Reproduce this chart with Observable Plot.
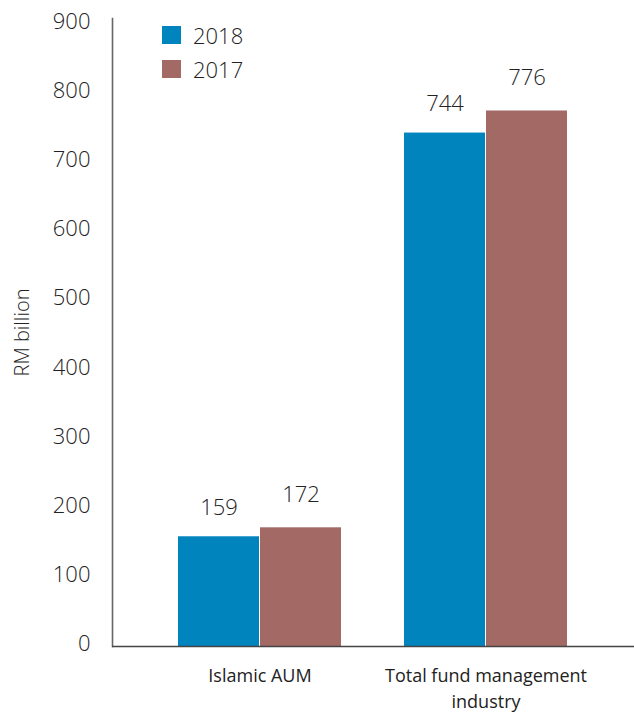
<!DOCTYPE html>
<html><head><meta charset="utf-8">
<script src="https://cdn.jsdelivr.net/npm/d3@7"></script>
<script src="https://cdn.jsdelivr.net/npm/@observablehq/plot@0.6"></script>
<style>
body{margin:0;background:#fff;font-family:"Open Sans",sans-serif;}
#wrap{position:relative;width:634px;height:713px;}
#wrap svg text{font-weight:300;}
#wrap svg g[aria-label="x-axis tick label"] text{font-weight:400;}
.legend{position:absolute;left:162px;top:18px;font-size:22px;font-weight:300;color:#222;}
.item{display:flex;align-items:center;height:34px;}
.sw{width:19px;height:18px;margin-right:12px;}
</style></head><body><div id="wrap"></div>
<script>
const categories = ["Islamic AUM", "Total fund management industry"];
const xTickLabels = ["Islamic AUM", "Total fund management\nindustry"];
const years = ["2018", "2017"];
const values2018 = [159, 744];
const values2017 = [172, 776];
const colors = ["#0084BE", "#A36A65"];
const yTicks = [0, 100, 200, 300, 400, 500, 600, 700, 800, 900];
const yLabel = "RM billion";

const d2018 = categories.map((c, i) => ({category: c, value: values2018[i]}));
const d2017 = categories.map((c, i) => ({category: c, value: values2017[i]}));
const half = 82;

const chart = Plot.plot({
  width: 634, height: 713,
  marginLeft: 112, marginRight: 0, marginTop: 18, marginBottom: 67,
  style: {fontFamily: "'Open Sans', sans-serif", color: "#222", background: "white", overflow: "visible"},
  x: {domain: categories, paddingInner: 0.278, paddingOuter: 0.289, axis: null},
  y: {domain: [0, 910], axis: null},
  marks: [
    Plot.barY(d2018, {x: "category", y: "value", fill: colors[0], insetRight: half}),
    Plot.barY(d2017, {x: "category", y: "value", fill: colors[1], insetLeft: half}),
    Plot.text(d2018, {x: "category", y: "value", text: d => String(d.value), dx: -half/2, dy: -29, fontSize: 22, fill: "#222"}),
    Plot.text(d2017, {x: "category", y: "value", text: d => String(d.value), dx: half/2, dy: -33, fontSize: 22, fill: "#222"}),
    Plot.axisY(yTicks, {tickSize: 0, tickPadding: 22, fontSize: 22, label: null, dy: -3, fill: "#222"}),
    Plot.axisX({tickSize: 0, tickPadding: 18, fontSize: 18, label: null, lineHeight: 1.4, fill: "#222",
      tickFormat: d => xTickLabels[categories.indexOf(d)]}),
    Plot.frame({anchor: "left", stroke: "#666", strokeWidth: 1.6}),
    Plot.ruleY([0], {stroke: "#444", strokeWidth: 1.5}),
    Plot.text([yLabel], {frameAnchor: "left", textAnchor: "middle", rotate: -90, dx: -90, fontSize: 20, fill: "#222"})
  ]
});
const wrap = document.getElementById("wrap");
wrap.appendChild(chart);
const legend = document.createElement("div");
legend.className = "legend";
years.forEach((y, i) => {
  const it = document.createElement("div");
  it.className = "item";
  it.innerHTML = `<span class="sw" style="background:${colors[i]}"></span><span>${y}</span>`;
  legend.appendChild(it);
});
wrap.appendChild(legend);
</script></body></html>
